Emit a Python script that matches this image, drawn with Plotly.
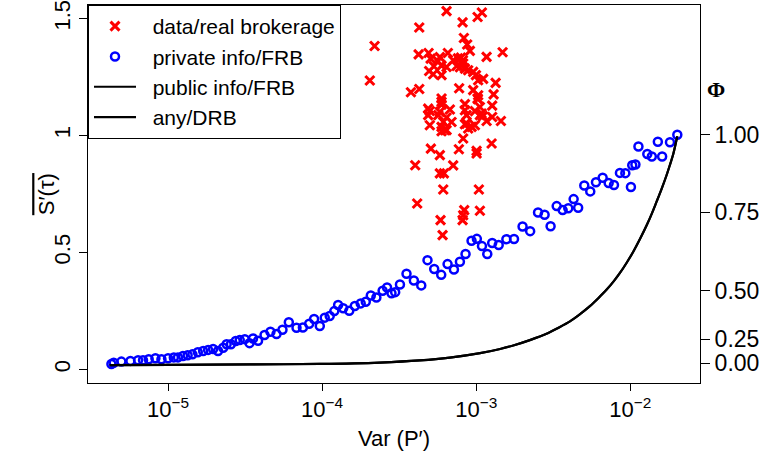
import plotly.graph_objects as go

# ---- data ----
# private info / FRB (blue open circles)
blue_var = [4.29e-6, 4.44e-6, 4.98e-6, 5.70e-6, 6.39e-6, 6.88e-6, 7.49e-6, 8.28e-6, 9.06e-6, 1.00e-5,
            1.09e-5, 1.16e-5, 1.25e-5, 1.34e-5, 1.44e-5, 1.56e-5, 1.69e-5, 1.82e-5, 1.96e-5, 2.11e-5,
            2.28e-5, 2.40e-5, 2.56e-5, 2.75e-5, 2.92e-5, 3.15e-5, 3.38e-5, 3.56e-5, 3.84e-5, 4.23e-5,
            4.62e-5, 5.06e-5, 5.53e-5, 6.08e-5, 6.82e-5, 7.50e-5, 8.24e-5, 8.87e-5, 9.66e-5, 1.04e-4,
            1.12e-4, 1.20e-4, 1.27e-4, 1.37e-4, 1.50e-4, 1.63e-4, 1.78e-4, 1.92e-4, 2.07e-4, 2.25e-4,
            2.47e-4, 2.64e-4, 2.82e-4, 2.98e-4, 3.20e-4, 3.53e-4, 3.94e-4, 4.40e-4, 4.83e-4, 5.34e-4,
            5.93e-4, 6.52e-4, 7.17e-4, 7.84e-4, 8.53e-4, 9.33e-4, 1.01e-3, 1.09e-3, 1.18e-3, 1.27e-3,
            1.40e-3, 1.57e-3, 1.76e-3, 2.00e-3, 2.24e-3, 2.52e-3, 2.78e-3, 3.04e-3, 3.33e-3, 3.64e-3,
            3.96e-3, 4.29e-3, 4.59e-3, 5.03e-3, 5.50e-3, 5.99e-3, 6.62e-3, 7.24e-3, 7.84e-3, 8.57e-3,
            9.29e-3, 1.01e-2, 1.03e-2, 1.08e-2, 1.13e-2, 1.29e-2, 1.38e-2, 1.51e-2, 1.61e-2, 1.81e-2,
            2.02e-2]
blue_s = [0.023, 0.028, 0.033, 0.036, 0.039, 0.039, 0.043, 0.047, 0.043, 0.047,
          0.051, 0.051, 0.057, 0.060, 0.064, 0.073, 0.078, 0.083, 0.087, 0.078,
          0.092, 0.107, 0.107, 0.121, 0.125, 0.129, 0.112, 0.132, 0.122, 0.147,
          0.161, 0.151, 0.169, 0.201, 0.178, 0.179, 0.195, 0.215, 0.185, 0.221,
          0.228, 0.249, 0.275, 0.261, 0.250, 0.271, 0.282, 0.289, 0.316, 0.307,
          0.336, 0.350, 0.325, 0.330, 0.363, 0.409, 0.380, 0.359, 0.467, 0.429,
          0.404, 0.450, 0.427, 0.460, 0.493, 0.550, 0.558, 0.527, 0.493, 0.540,
          0.532, 0.556, 0.557, 0.611, 0.591, 0.671, 0.661, 0.612, 0.698, 0.681,
          0.689, 0.728, 0.691, 0.786, 0.761, 0.800, 0.819, 0.797, 0.788, 0.840,
          0.839, 0.780, 0.873, 0.876, 0.953, 0.921, 0.910, 0.973, 0.910, 0.971,
          1.003]

# data / real brokerage (red crosses)
red_var = [6.42e-4, 8.16e-4, 1.021e-3, 1.089e-3, 4.27e-4, 2.19e-4, 2.04e-4, 8.32e-4, 8.74e-4, 9.10e-4,
           1.484e-3, 1.168e-3, 4.23e-4, 4.91e-4, 5.06e-4, 6.55e-4, 5.64e-4, 5.96e-4, 6.42e-4, 4.95e-4,
           5.26e-4, 5.96e-4, 7.09e-4, 7.46e-4, 7.96e-4, 8.23e-4, 8.45e-4, 8.87e-4, 9.56e-4, 9.96e-4,
           1.030e-3, 1.110e-3, 1.337e-3, 1.297e-3, 4.27e-4, 3.77e-4, 7.75e-4, 9.56e-4, 1.030e-3, 1.021e-3,
           5.96e-4, 5.96e-4, 4.88e-4, 4.88e-4, 5.81e-4, 6.75e-4, 8.45e-4, 8.45e-4, 1.057e-3, 1.084e-3,
           1.270e-3, 1.270e-3, 1.447e-3, 1.168e-3, 8.66e-4, 6.42e-4, 6.11e-4, 6.92e-4, 5.00e-4, 5.96e-4,
           6.42e-4, 5.96e-4, 8.45e-4, 9.34e-4, 9.81e-4, 8.87e-4, 8.23e-4, 1.259e-3, 5.08e-4, 5.81e-4,
           7.72e-4, 1.006e-3, 1.006e-3, 4.02e-4, 7.09e-4, 5.81e-4, 6.17e-4, 6.11e-4, 1.041e-3, 4.14e-4,
           8.36e-4, 8.23e-4, 8.16e-4, 1.057e-3, 5.87e-4, 6.05e-4, 5.67e-4, 1.057e-3, 8.66e-4, 6.26e-4,
           7.61e-4, 8.20e-4, 7.84e-4, 5.31e-4, 5.81e-4, 1.105e-3, 5.96e-4, 5.00e-4, 1.026e-3, 9.81e-4]
red_s = [1.532, 1.484, 1.507, 1.526, 1.462, 1.383, 1.235, 1.417, 1.389, 1.362,
         1.356, 1.336, 1.347, 1.353, 1.329, 1.353, 1.318, 1.299, 1.293, 1.276,
         1.262, 1.258, 1.322, 1.297, 1.333, 1.308, 1.286, 1.279, 1.272, 1.258,
         1.236, 1.242, 1.225, 1.176, 1.199, 1.185, 1.202, 1.194, 1.172, 1.158,
         1.158, 1.144, 1.115, 1.087, 1.101, 1.111, 1.134, 1.108, 1.122, 1.094,
         1.128, 1.079, 1.062, 1.062, 1.087, 1.077, 1.058, 1.058, 1.044, 1.037,
         1.023, 1.018, 1.048, 1.037, 1.044, 1.030, 0.987, 0.966, 0.944, 0.916,
         0.941, 0.934, 0.923, 0.873, 0.872, 0.838, 0.838, 0.769, 0.769, 0.709,
         0.681, 0.659, 0.638, 0.678, 0.638, 0.574, 1.087, 1.087, 1.051, 1.023,
         1.330, 1.322, 1.292, 1.296, 1.335, 1.083, 1.132, 1.105, 1.155, 1.104]

# public info / FRB and any / DRB (black curve, both coincide)
curve_var = [4.18e-6, 1.03e-5, 3.39e-5, 9.66e-5, 2.37e-4, 4.31e-4, 6.75e-4, 1.06e-3, 1.43e-3, 1.74e-3,
             2.23e-3, 2.86e-3, 3.40e-3, 4.06e-3, 4.70e-3, 5.47e-3, 6.20e-3, 7.03e-3, 7.80e-3, 8.57e-3,
             9.50e-3, 1.05e-2, 1.16e-2, 1.28e-2, 1.38e-2, 1.48e-2, 1.60e-2, 1.72e-2, 1.81e-2, 1.90e-2,
             2.02e-2]
curve_s = [0.018, 0.019, 0.021, 0.023, 0.029, 0.038, 0.050, 0.069, 0.087, 0.102,
           0.125, 0.152, 0.177, 0.205, 0.235, 0.270, 0.304, 0.341, 0.376, 0.412,
           0.457, 0.505, 0.559, 0.617, 0.666, 0.716, 0.773, 0.830, 0.875, 0.920,
           0.997]

x_tickvals = [1e-5, 1e-4, 1e-3, 1e-2]
x_ticktext = ["10<sup>−5</sup>", "10<sup>−4</sup>", "10<sup>−3</sup>", "10<sup>−2</sup>"]
y_tickvals = [0, 0.5, 1, 1.5]
y_ticktext = ["0", "0.5", "1", "1.5"]
phi_labels = ["0.00", "0.25", "0.50", "0.75", "1.00"]
phi_at_s = [0.0256, 0.128, 0.336, 0.671, 1.004]

FONT = "Liberation Sans, Arial, sans-serif"
PAD = "\u00a0\u00a0"

fig = go.Figure()
fig.add_trace(go.Scatter(x=red_var, y=red_s, mode="markers", name=PAD + "data/real brokerage",
                         marker=dict(symbol="x-thin-open", size=9, color="#ff0000",
                                     line=dict(color="#ff0000", width=3))))
fig.add_trace(go.Scatter(x=blue_var, y=blue_s, mode="markers", name=PAD + "private info/FRB",
                         marker=dict(symbol="circle-open", size=8, color="#0000ff",
                                     line=dict(color="#0000ff", width=2.5))))
fig.add_trace(go.Scatter(x=curve_var, y=curve_s, mode="lines", name=PAD + "public info/FRB",
                         line=dict(color="black", width=2.2, shape="spline", smoothing=0.8)))
fig.add_trace(go.Scatter(x=curve_var, y=curve_s, mode="lines", name=PAD + "any/DRB",
                         line=dict(color="black", width=2.2, shape="spline", smoothing=0.8)))
fig.add_trace(go.Scatter(x=[None], y=[None], yaxis="y2", showlegend=False, hoverinfo="skip"))

yr = [-0.0585, 1.5581]
fig.update_layout(
    width=769, height=451,
    margin=dict(l=88, r=69, t=5, b=68, autoexpand=False),
    paper_bgcolor="white", plot_bgcolor="white",
    font=dict(family=FONT, size=22, color="black"),
    showlegend=True,
    legend=dict(x=0, y=1, xanchor="left", yanchor="top", bgcolor="white",
                bordercolor="black", borderwidth=1, font=dict(size=21),
                itemwidth=42),
    xaxis=dict(type="log", range=[-5.5195, -1.5474], tickvals=x_tickvals, ticktext=x_ticktext,
               ticks="outside", ticklen=7, tickcolor="black", showline=True, linecolor="black",
               mirror=True, showgrid=False, zeroline=False, automargin=False,
               title=dict(text="Var (P′)", font=dict(size=22))),
    yaxis=dict(range=yr, tickvals=y_tickvals, ticktext=y_ticktext, tickangle=-90,
               ticks="outside", ticklen=8, tickcolor="black", showline=True, linecolor="black",
               mirror=True, showgrid=False, zeroline=False, automargin=False,
               ticklabeloverflow="allow"),
    yaxis2=dict(overlaying="y", side="right", range=yr, tickvals=phi_at_s, ticktext=phi_labels,
                ticks="outside", ticklen=9, tickcolor="black", showline=False,
                showgrid=False, zeroline=False, automargin=False, ticklabeloverflow="allow",
                tickfont=dict(size=23)),
    annotations=[
        dict(text="<b>Φ</b>", xref="paper", yref="paper", x=1.044, y=0.815,
             showarrow=False, font=dict(family="Liberation Serif, DejaVu Serif, serif", size=22)),
        dict(text='<span style="text-decoration:overline">S′(τ)</span>', xref="paper", yref="paper",
             x=-0.092, y=0.5, textangle=-90, showarrow=False, font=dict(size=22)),
    ],
)

fig.write_html("out.html", config={"displayModeBar": False},
               post_script="document.body.style.margin='0';")
